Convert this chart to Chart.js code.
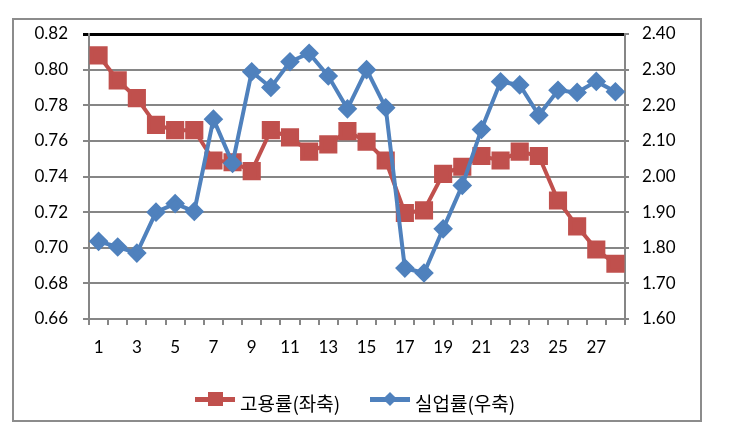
<!DOCTYPE html>
<html>
<head>
<meta charset="utf-8">
<script src="https://cdn.jsdelivr.net/npm/chart.js@4"></script>
<style>
  body { margin: 0; background: #fff; }
  #wrap { position: relative; width: 745px; height: 436px; }
  #frame { position: absolute; left: 12px; top: 18px; width: 686px; height: 400px; border: 2px solid #8c8c8c; pointer-events: none; }
  #chart { position: absolute; left: 0; top: 0; }
  .leg { position: absolute; top: 391px; font-family: "Noto Sans CJK KR", sans-serif; font-size: 19px; color: #000; line-height: 24px; }
  .leg .ln { position: absolute; top: 6px; left: 0; width: 40px; height: 5px; }
  .leg .mk { position: absolute; }
  .leg span.t { position: absolute; left: 45px; top: 0; white-space: nowrap; }
</style>
</head>
<body>
<div id="wrap">
  <canvas id="chart" width="745" height="436"></canvas>
  <div id="frame"></div>
  <div class="leg" style="left:195px">
    <div class="ln" style="background:#c0504d"></div>
    <div class="mk" style="left:13px;top:1px;width:15px;height:14px;background:#c0504d"></div>
    <span class="t">고용률(좌축)</span>
  </div>
  <div class="leg" style="left:370px">
    <div class="ln" style="background:#4f81bd"></div>
    <div class="mk" style="left:15px;top:3px;width:10px;height:10px;background:#4f81bd;transform:rotate(45deg)"></div>
    <span class="t">실업률(우축)</span>
  </div>
</div>
<script>
var categories = [];
for (var i = 1; i <= 28; i++) categories.push(String(i));

var employment = [0.808, 0.794, 0.784, 0.769, 0.766, 0.766, 0.749, 0.748, 0.743, 0.766,
                  0.762, 0.754, 0.758, 0.7655, 0.7595, 0.749, 0.7195, 0.721, 0.7415, 0.7455,
                  0.7515, 0.749, 0.754, 0.7515, 0.7265, 0.712, 0.699, 0.691];
var unemployment = [1.818, 1.802, 1.785, 1.90, 1.924, 1.902, 2.161, 2.037, 2.294, 2.25,
                    2.322, 2.346, 2.282, 2.19, 2.30, 2.193, 1.743, 1.729, 1.853, 1.975,
                    2.132, 2.266, 2.257, 2.172, 2.242, 2.236, 2.267, 2.238];

var grayLine = '#868686';
var tickFont = { family: 'Lato, Liberation Sans, sans-serif', size: 17 };

var ctx = document.getElementById('chart').getContext('2d');
var chart = new Chart(ctx, {
    type: 'line',
    data: {
        labels: categories,
        datasets: [{
            label: '고용률(좌축)',
            data: employment,
            yAxisID: 'y',
            borderColor: '#c0504d',
            backgroundColor: '#c0504d',
            borderWidth: 4,
            pointStyle: 'rect',
            pointRadius: 10,
            pointHoverRadius: 10,
            tension: 0,
            order: 1
        }, {
            label: '실업률(우축)',
            data: unemployment,
            yAxisID: 'y1',
            borderColor: '#4f81bd',
            backgroundColor: '#4f81bd',
            borderWidth: 4,
            pointStyle: 'rectRot',
            pointRadius: 7,
            pointHoverRadius: 7,
            tension: 0,
            order: 0
        }]
    },
    options: {
        responsive: false,
        animation: false,
        layout: { padding: { top: 34, left: 0, right: 0, bottom: 0 } },
        plugins: {
            legend: { display: false },
            tooltip: { enabled: false }
        },
        scales: {
            x: {
                offset: true,
                grid: { offset: true, drawOnChartArea: false, drawTicks: true, tickLength: 6, color: grayLine, lineWidth: 2 },
                border: { color: grayLine, width: 2 },
                ticks: {
                    autoSkip: false, maxRotation: 0, padding: 12, color: '#000', font: tickFont,
                    callback: function (v, i) { return i % 2 === 0 ? categories[i] : ''; }
                },
                afterFit: function (s) { s.height = 117; }
            },
            y: {
                position: 'left',
                min: 0.66, max: 0.82,
                ticks: { stepSize: 0.02, padding: 15, color: '#000', font: tickFont,
                         callback: function (v) { return v.toFixed(2); } },
                grid: {
                    tickLength: 6,
                    color: function (c) { return c.index === 8 ? '#000' : grayLine; },
                    lineWidth: function (c) { return c.index === 8 ? 3 : 2; }
                },
                border: { color: grayLine, width: 2 },
                afterFit: function (s) { s.width = 89; }
            },
            y1: {
                position: 'right',
                min: 1.6, max: 2.4,
                ticks: { stepSize: 0.1, padding: 13, color: '#000', font: tickFont,
                         callback: function (v) { return v.toFixed(2); } },
                grid: { drawOnChartArea: false, tickLength: 4, color: grayLine, lineWidth: 2 },
                border: { color: grayLine, width: 2 },
                afterFit: function (s) { s.width = 120; }
            }
        }
    }
});
</script>
</body>
</html>
